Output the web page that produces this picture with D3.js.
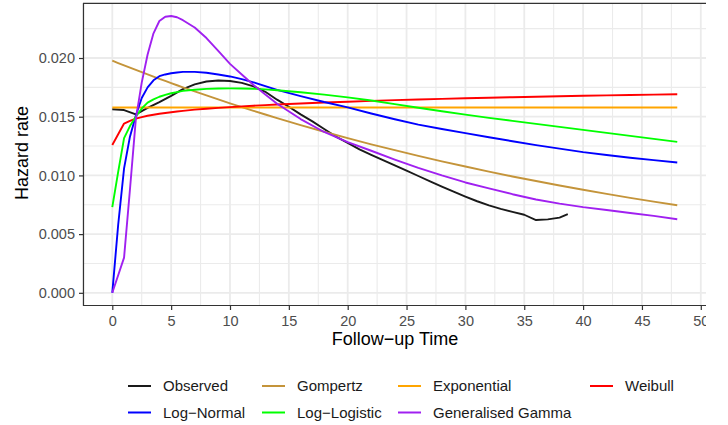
<!DOCTYPE html>
<html>
<head>
<meta charset="utf-8">
<style>
  body { margin: 0; background: #fff; font-family: "Liberation Sans", Arial, sans-serif; }
  svg { display: block; }
  .grid-major { stroke: #ebebeb; stroke-width: 1.8px; }
  .grid-minor { stroke: #ebebeb; stroke-width: 1.1px; }
  .tick-label { fill: #4d4d4d; font-size: 14.5px; }
  .axis-title { fill: #000; font-size: 18px; }
  .legend-label { fill: #1a1a1a; font-size: 15px; }
  .hazard { fill: none; stroke-width: 1.9px; stroke-linejoin: round; }
</style>
</head>
<body>
<script src="https://cdn.jsdelivr.net/npm/d3@7"></script>
<script>
// time points where the fitted curves were read
var fitTimes = [0, 0.5, 1, 1.5, 2, 2.5, 3, 3.5, 4, 4.5,
  5, 5.5, 6, 7, 8, 9, 10, 11, 12, 13, 14,
  16, 18, 20, 22, 24, 26, 28, 30, 32, 34, 36, 38, 40, 42, 44, 46, 48];

var gompertz = [0.01977, 0.01957, 0.01937, 0.01918, 0.01898, 0.01879, 0.0186, 0.01842, 0.01823, 0.01805,
  0.01786, 0.01768, 0.0175, 0.01715, 0.01681, 0.01647, 0.01614, 0.01582, 0.0155, 0.01519, 0.01488,
  0.01429, 0.01372, 0.01317, 0.01265, 0.01215, 0.01167, 0.0112, 0.01076, 0.01032, 0.00991,
  0.00952, 0.00914, 0.00878, 0.00843, 0.00809, 0.00777, 0.00746];

var exponential = [0.01578, 0.01578, 0.01578, 0.01578, 0.01578, 0.01578, 0.01578, 0.01578, 0.01578, 0.01578,
  0.01578, 0.01578, 0.01578, 0.01578, 0.01578, 0.01578, 0.01578, 0.01578, 0.01578, 0.01578, 0.01578,
  0.01578, 0.01578, 0.01578, 0.01578, 0.01578, 0.01578, 0.01578, 0.01578, 0.01578, 0.01578,
  0.01578, 0.01578, 0.01578, 0.01578, 0.01578, 0.01578, 0.01578];

var weibull = [0.01259, 0.0135, 0.01442, 0.01465, 0.01483, 0.01497, 0.01508, 0.01517, 0.01525, 0.01532,
  0.01538, 0.01544, 0.0155, 0.0156, 0.01568, 0.01575, 0.01582, 0.01588, 0.01594, 0.01599, 0.01604,
  0.01613, 0.01621, 0.01628, 0.01635, 0.01641, 0.01647, 0.01652, 0.01657, 0.01662, 0.01666,
  0.0167, 0.01674, 0.01678, 0.01682, 0.01685, 0.01688, 0.01691];

var logNormal = [0, 0.0058, 0.0106, 0.0133, 0.0151, 0.0166, 0.0175, 0.0181, 0.01845, 0.0186,
  0.0187, 0.01877, 0.01882, 0.01882, 0.01875, 0.0186, 0.01843, 0.0182, 0.01793, 0.0176, 0.01728,
  0.01675, 0.01625, 0.0158, 0.01527, 0.01478, 0.01433, 0.01395, 0.0136, 0.01325, 0.01291,
  0.01258, 0.01228, 0.01198, 0.01174, 0.0115, 0.0113, 0.0111];

var logLogistic = [0.0073, 0.0103, 0.01318, 0.0142, 0.015, 0.0157, 0.0162, 0.01648, 0.0167, 0.01686,
  0.017, 0.0171, 0.0172, 0.0173, 0.01737, 0.0174, 0.01741, 0.0174, 0.01738, 0.01733, 0.01726,
  0.01708, 0.01688, 0.01665, 0.01638, 0.01607, 0.01576, 0.01547, 0.01518, 0.0149, 0.01465,
  0.01439, 0.01413, 0.01388, 0.01362, 0.01337, 0.01311, 0.01286];

var genGamma = [0, 0.0015, 0.003, 0.0088, 0.0148, 0.0179, 0.0203, 0.0221, 0.02315, 0.02352,
  0.02358, 0.02347, 0.02322, 0.0226, 0.0217, 0.0206, 0.0195, 0.0186, 0.0177, 0.0169, 0.0161,
  0.0148, 0.0137, 0.01283, 0.0121, 0.01135, 0.01065, 0.01, 0.0094, 0.0089, 0.0084,
  0.00795, 0.0076, 0.0073, 0.00705, 0.0068, 0.00655, 0.00627];

// observed (smoothed) hazard
var obsTimes = [0, 1, 2, 3, 4, 5, 6, 7, 8, 9, 10, 11, 12, 13, 14, 15, 16, 17, 18, 19,
  20, 21, 22, 23, 24, 25, 26, 27, 28, 29, 30, 31, 32, 33, 34, 35, 36, 37, 38, 38.7];
var observed = [0.01563, 0.01557, 0.0152, 0.01575, 0.01625, 0.01678, 0.01735, 0.01775, 0.018, 0.01808,
  0.01804, 0.01788, 0.01758, 0.01712, 0.01645, 0.01585, 0.0152, 0.0146, 0.01395, 0.0133,
  0.01277, 0.01222, 0.01175, 0.0113, 0.01085, 0.0104, 0.00995, 0.0095, 0.00905, 0.00862,
  0.0082, 0.0078, 0.00745, 0.00715, 0.0069, 0.00665, 0.0062, 0.00626, 0.0064, 0.0067];

var seriesNames = ["Observed", "Gompertz", "Exponential", "Weibull",
  "Log\u2212Normal", "Log\u2212Logistic", "Generalised Gamma"];
var seriesColors = ["#1a1a1a", "#c4943a", "#ffa500", "#ff0000", "#0000ff", "#00ff00", "#a020f0"];

var xTicks = [0, 5, 10, 15, 20, 25, 30, 35, 40, 45, 50];
var yTicks = [0, 0.005, 0.01, 0.015, 0.02];

var width = 706, height = 425;
var panel = {left: 83.5, top: 3.3, bottom: 305.5, right: 760};

var svg = d3.select("body").append("svg")
    .attr("width", width)
    .attr("height", height);

var x = d3.scaleLinear().domain([-2.4, 50.4]).range([84.05, 705.5]);
var y = d3.scaleLinear().domain([-0.00108, 0.02466]).range([panel.bottom, panel.top]);

// minor grid at half steps
var xMinor = xTicks.map(function(d){ return d + 2.5; }).concat([-2.5]);
var yMinor = yTicks.map(function(d){ return d + 0.0025; });

svg.append("g").selectAll("line").data(xMinor).enter().append("line")
    .attr("class", "grid-minor")
    .attr("x1", function(d){ return x(d); }).attr("x2", function(d){ return x(d); })
    .attr("y1", panel.top).attr("y2", panel.bottom);
svg.append("g").selectAll("line").data(yMinor).enter().append("line")
    .attr("class", "grid-minor")
    .attr("x1", panel.left).attr("x2", panel.right)
    .attr("y1", function(d){ return y(d); }).attr("y2", function(d){ return y(d); });
svg.append("g").selectAll("line").data(xTicks).enter().append("line")
    .attr("class", "grid-major")
    .attr("x1", function(d){ return x(d); }).attr("x2", function(d){ return x(d); })
    .attr("y1", panel.top).attr("y2", panel.bottom);
svg.append("g").selectAll("line").data(yTicks).enter().append("line")
    .attr("class", "grid-major")
    .attr("x1", panel.left).attr("x2", panel.right)
    .attr("y1", function(d){ return y(d); }).attr("y2", function(d){ return y(d); });

// hazard curves
var line = d3.line()
    .x(function(d){ return x(d[0]); })
    .y(function(d){ return y(d[1]); });

var fitted = [gompertz, exponential, weibull, logNormal, logLogistic, genGamma];
var curves = [d3.zip(obsTimes, observed)].concat(fitted.map(function(vals){
  return d3.zip(fitTimes, vals);
}));

svg.append("g").selectAll("path").data(curves).enter().append("path")
    .attr("class", "hazard")
    .attr("stroke", function(d, i){ return seriesColors[i]; })
    .attr("d", line);

// panel border (right side falls outside the picture)
svg.append("path")
    .attr("d", "M" + panel.right + "," + panel.top + "H" + panel.left + "V" + panel.bottom + "H" + panel.right)
    .attr("fill", "none")
    .attr("stroke", "#333")
    .attr("stroke-width", 1.2);

// axes
var xAxis = svg.append("g")
    .attr("transform", "translate(0," + panel.bottom + ")")
    .call(d3.axisBottom(x).tickValues(xTicks).tickSize(4.5).tickPadding(5));
var yAxis = svg.append("g")
    .attr("transform", "translate(" + panel.left + ",0)")
    .call(d3.axisLeft(y).tickValues(yTicks).tickFormat(d3.format(".3f")).tickSize(4.5).tickPadding(4));

[xAxis, yAxis].forEach(function(ax){
  ax.select(".domain").remove();
  ax.selectAll(".tick line").attr("stroke", "#333").attr("stroke-width", 1.2);
  ax.selectAll(".tick text").attr("class", "tick-label").attr("fill", null)
    .style("font-family", "inherit");
});
xAxis.selectAll(".tick text").attr("dy", "0.75em");

svg.append("text")
    .attr("class", "axis-title")
    .attr("x", 395)
    .attr("y", 345)
    .attr("text-anchor", "middle")
    .text("Follow\u2212up Time");

svg.append("text")
    .attr("class", "axis-title")
    .attr("transform", "translate(28,153) rotate(-90)")
    .attr("text-anchor", "middle")
    .text("Hazard rate");

// legend, filled row by row in four columns
var legendCols = [128, 262, 398, 590];
var legendRows = [386, 412.5];

var legend = svg.append("g").selectAll("g").data(seriesNames).enter().append("g")
    .attr("transform", function(d, i){
      return "translate(" + legendCols[i % 4] + "," + legendRows[Math.floor(i / 4)] + ")";
    });
legend.append("line")
    .attr("x1", 0).attr("x2", 23)
    .attr("stroke", function(d, i){ return seriesColors[i]; })
    .attr("stroke-width", 2);
legend.append("text")
    .attr("class", "legend-label")
    .attr("x", 35)
    .attr("dy", "0.36em")
    .text(function(d){ return d; });
</script>
</body>
</html>
